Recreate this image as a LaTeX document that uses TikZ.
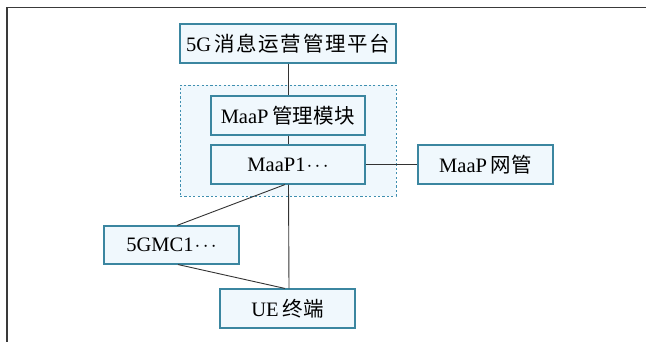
\documentclass[tikz,border=0pt]{standalone}
\usepackage{fontspec}
\setmainfont{Liberation Serif}
\newfontfamily\cjk{Noto Sans CJK SC}[LetterSpace=2]
\newfontfamily\cjkw{Noto Sans CJK SC}[LetterSpace=8]
\newcommand{\mydots}{\ensuremath{\mkern1mu\cdot\mkern-2mu\cdot\mkern-2mu\cdot}}
\definecolor{boxfill}{HTML}{F0F8FD}
\definecolor{boxline}{HTML}{3B86A0}
\definecolor{dashline}{HTML}{3F8FB0}
\definecolor{conn}{HTML}{333333}
\definecolor{frame}{HTML}{3A3A3A}
\begin{document}
\begin{tikzpicture}[x=1pt,y=-1pt,
  blk/.style={draw=boxline,fill=boxfill,line width=1.1pt,inner sep=0pt,
    minimum height=39pt,font=\fontsize{20.5}{23}\selectfont},
  grp/.style={draw=dashline,fill=boxfill,line width=0.9pt,
    dash pattern=on 2.2pt off 2.2pt,inner sep=0pt},
  link/.style={draw=conn,line width=0.9pt}]
\useasboundingbox (0,0) rectangle (646,342);
\fill[white] (0,0) rectangle (646,342);
\draw[frame,line width=1.6pt] (7,342) -- (7,7.5) -- (646,7.5);
\node[grp,minimum width=216pt,minimum height=111pt] (g) at (288,140.5) {};
\node[blk,minimum width=216pt,font=\fontsize{20.5}{24}\selectfont] (top) at (288,43.5) {5G\,{\cjkw 消息运营管理平台}\hspace{-1.5pt}};
\node[blk,minimum width=154pt] (mod) at (288,115.5) {MaaP\,{\cjk 管理模块}};
\node[blk,minimum width=154pt] (p1) at (288,164.5) {MaaP1\mydots};
\node[blk,minimum width=135pt] (nm) at (485.5,164.5) {MaaP\,{\cjk 网管}};
\node[blk,minimum width=135pt,minimum height=38pt] (gm) at (171.5,245) {5GMC1\mydots};
\node[blk,minimum width=135pt] (ue) at (287.5,308.5) {UE\,{\cjk 终端}};
\draw[link] (top.south) -- (mod.north);
\draw[link] (mod.south) -- (p1.north);
\draw[link] (p1.east) -- (nm.west);
\draw[link] ([xshift=0.5pt]p1.south) -- ([xshift=1.5pt]ue.north);
\draw[link] ([xshift=-3pt]p1.south) -- ([xshift=5.5pt]gm.north);
\draw[link] ([xshift=6.5pt]gm.south) -- ([xshift=-2.5pt]ue.north);
\end{tikzpicture}
\end{document}
